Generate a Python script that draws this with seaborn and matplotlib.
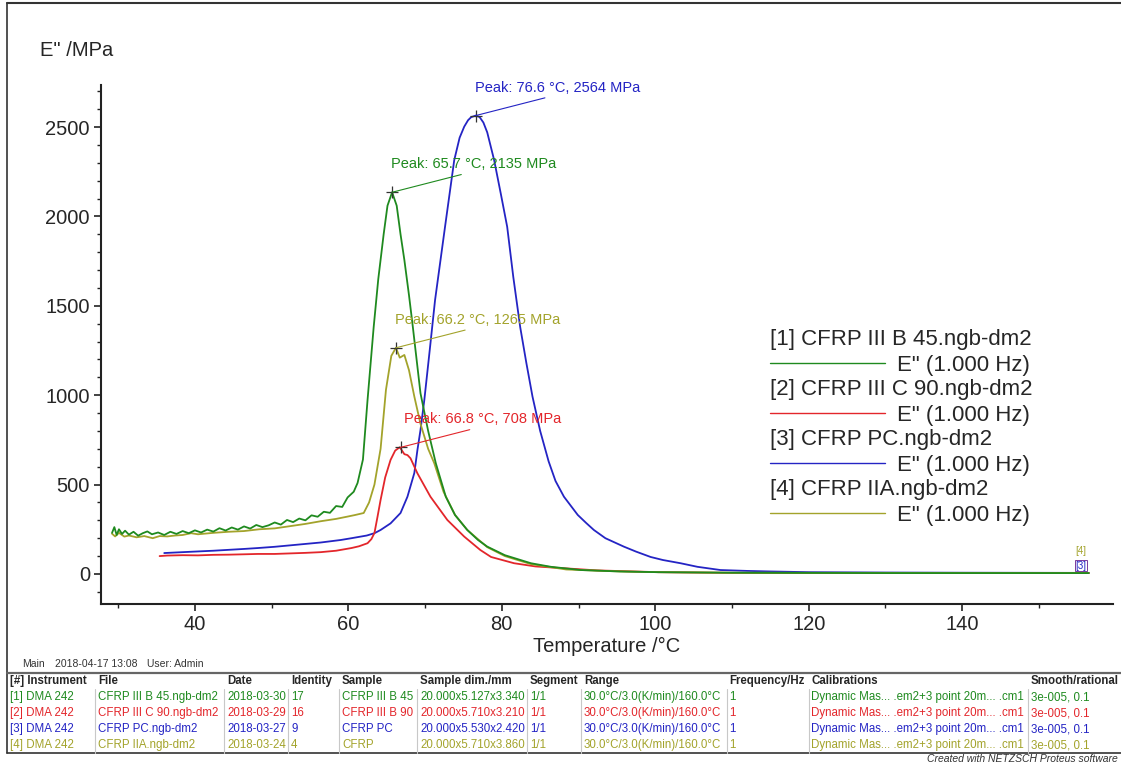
import pandas as pd
import matplotlib.pyplot as plt
from matplotlib.lines import Line2D
from matplotlib.ticker import MultipleLocator
import seaborn as sns

b45_temp = [
    29.2, 29.5, 29.8, 30.1, 30.5, 30.9, 31.4, 32.0, 32.6, 33.2,
    33.8, 34.4, 35.2, 36.0, 36.8, 37.6, 38.4, 39.2, 40.0, 40.8,
    41.6, 42.4, 43.2, 44.0, 44.8, 45.6, 46.4, 47.2, 48.0, 48.8,
    49.6, 50.4, 51.2, 52.0, 52.8, 53.6, 54.4, 55.2, 56.0, 56.8,
    57.6, 58.4, 59.2, 59.9, 60.7, 61.2, 61.9, 62.5, 63.3, 63.9,
    64.6, 65.1, 65.7, 66.3, 66.8, 67.3, 67.9, 68.4, 69.4, 70.4,
    71.4, 72.7, 73.9, 75.5, 76.9, 78.1, 80.4, 83.8, 86.4, 90.3,
    95.4, 100.4, 110.0, 120.0, 130.0, 140.0, 150.0, 156.5]
b45_loss = [
    230, 262, 218, 250, 224, 242, 220, 236, 214, 228,
    238, 222, 232, 218, 236, 224, 240, 228, 244, 232,
    248, 237, 256, 243, 260, 248, 266, 254, 274, 262,
    272, 288, 276, 302, 290, 310, 300, 328, 320, 348,
    342, 380, 375, 428, 460, 509, 640, 973, 1381, 1650,
    1900, 2060, 2135, 2060, 1900, 1756, 1560, 1383, 1011, 800,
    619, 432, 330, 246, 190, 153, 105, 60, 40, 22,
    14, 10, 7, 6, 5, 5, 5, 5]

c90_temp = [
    35.4, 36.4, 38.4, 40.4, 42.4, 44.4, 46.4, 48.2, 50.4, 52.4,
    54.4, 56.4, 58.4, 60.4, 61.4, 62.5, 63.0, 63.4, 63.8, 64.2,
    64.8, 65.5, 66.1, 66.7, 67.3, 67.7, 68.1, 69.0, 70.7, 72.9,
    75.1, 77.2, 78.6, 81.6, 84.4, 88.1, 92.4, 100.4, 110.0, 130.0,
    156.5]
c90_loss = [
    100, 103, 105, 104, 107, 108, 110, 112, 112, 115,
    118, 122, 130, 145, 155, 172, 195, 229, 320, 414,
    540, 638, 690, 709, 670, 665, 647, 563, 432, 302,
    209, 134, 95, 60, 42, 32, 20, 10, 6, 5,
    5]

pc_temp = [
    36.0, 38.4, 40.4, 42.4, 44.4, 46.4, 48.2, 50.4, 52.4, 54.4,
    56.4, 59.0, 60.4, 62.4, 63.4, 64.2, 65.5, 66.8, 67.7, 68.6,
    69.0, 69.4, 69.9, 70.6, 71.3, 72.6, 73.8, 74.5, 75.1, 75.6,
    76.0, 76.6, 77.1, 77.6, 78.1, 79.0, 79.9, 80.7, 81.5, 82.4,
    83.2, 84.0, 85.0, 86.1, 87.0, 88.1, 89.9, 91.0, 92.0, 93.5,
    95.9, 97.5, 99.4, 101.0, 103.3, 105.5, 108.5, 112.0, 115.0, 120.0,
    130.0, 140.0, 156.5]
pc_loss = [
    117, 122, 126, 130, 135, 140, 145, 152, 160, 168,
    176, 190, 200, 215, 228, 246, 283, 341, 432, 565,
    693, 805, 973, 1250, 1532, 1942, 2315, 2440, 2502, 2538,
    2555, 2564, 2556, 2525, 2470, 2315, 2120, 1942, 1660, 1380,
    1180, 992, 800, 630, 520, 432, 330, 285, 246, 200,
    153, 125, 95, 78, 60, 40, 22, 17, 14, 10,
    8, 7, 6]

iia_temp = [
    29.2, 29.6, 30.1, 30.8, 31.4, 32.4, 33.4, 34.5, 35.4, 36.4,
    37.4, 38.4, 39.5, 40.4, 42.4, 44.4, 46.4, 48.4, 50.4, 52.5,
    54.4, 56.4, 58.4, 59.9, 60.9, 62.0, 62.7, 63.4, 64.2, 64.9,
    65.6, 66.2, 66.7, 67.3, 67.9, 68.6, 69.4, 70.4, 71.2, 72.4,
    73.9, 75.5, 78.1, 80.4, 83.8, 88.4, 95.4, 100.4, 110.0, 130.0,
    156.5]
iia_loss = [
    225, 210, 230, 209, 215, 205, 212, 200, 212, 210,
    215, 218, 228, 222, 230, 236, 240, 250, 255, 268,
    280, 295, 308, 321, 330, 341, 400, 500, 700, 1030,
    1220, 1265, 1210, 1225, 1140, 992, 840, 700, 619, 460,
    330, 246, 150, 100, 55, 25, 14, 10, 7, 6,
    5]

files = ['CFRP III B 45.ngb-dm2', 'CFRP III C 90.ngb-dm2',
         'CFRP PC.ngb-dm2', 'CFRP IIA.ngb-dm2']
colors = ['#1f8a1f', '#e3262b', '#2424c4', '#a3a32b']
peak_temp = [65.7, 66.8, 76.6, 66.2]
peak_loss = [2135, 708, 2564, 1265]

# measurement table under the plot
tbl_date = ['2018-03-30', '2018-03-29', '2018-03-27', '2018-03-24']
tbl_identity = ['17', '16', '9', '4']
tbl_sample = ['CFRP III B 45', 'CFRP III B 90', 'CFRP PC', 'CFRP']
tbl_dim = ['20.000x5.127x3.340', '20.000x5.710x3.210',
           '20.000x5.530x2.420', '20.000x5.710x3.860']
tbl_headers = ['[#] Instrument', 'File', 'Date', 'Identity', 'Sample',
               'Sample dim./mm', 'Segment', 'Range', 'Frequency/Hz',
               'Calibrations', 'Smooth/rational']

curves = [(b45_temp, b45_loss), (c90_temp, c90_loss),
          (pc_temp, pc_loss), (iia_temp, iia_loss)]
frames = []
for f, (t, e) in zip(files, curves):
    frames.append(pd.DataFrame({'temp': t, 'loss': e, 'file': f}))
df = pd.concat(frames, ignore_index=True)

sns.set_style('ticks')
plt.rcParams['font.family'] = ['Liberation Sans', 'DejaVu Sans']

W, H = 1121, 766
fig = plt.figure(figsize=(W / 100, H / 100), dpi=100)
ax = fig.add_axes([101 / W, 1 - 604 / H, 1012 / W, 519 / H])

draw_order = [2, 1, 3, 0]
for i in draw_order:
    sns.lineplot(data=df[df['file'] == files[i]], x='temp', y='loss',
                 color=colors[i], sort=False, estimator=None, lw=1.3, ax=ax)

ax.set_xlim(27.76, 159.66)
ax.set_ylim(-168, 2735)
ax.xaxis.set_major_locator(MultipleLocator(20))
ax.xaxis.set_minor_locator(MultipleLocator(10))
ax.yaxis.set_major_locator(MultipleLocator(500))
ax.yaxis.set_minor_locator(MultipleLocator(100))
ax.tick_params(which='major', length=5, width=1.2, labelsize=14.5, pad=3,
               color='#222222')
ax.tick_params(which='minor', length=3, width=1.0, color='#222222')
for s in ['top', 'right']:
    ax.spines[s].set_visible(False)
for s in ['left', 'bottom']:
    ax.spines[s].set_linewidth(1.5)
    ax.spines[s].set_color('#222222')
ax.set_xlabel('Temperature /\u00b0C', fontsize=14.5, labelpad=2)
ax.set_ylabel('')
fig.text(40 / W, 1 - 50 / H, 'E" /MPa', fontsize=14.5, va='center')

# peak markers + labels
for t, v, c in zip(peak_temp, peak_loss, colors):
    ax.plot(t, v, marker='+', color='#333333', ms=9, mew=0.9)
    ax.annotate(f'Peak: {t} \u00b0C, {v} MPa', xy=(t, v), xytext=(82, 21),
                textcoords='offset pixels', ha='center', va='bottom',
                fontsize=10.5, color=c,
                arrowprops=dict(arrowstyle='-', color=c, lw=0.8,
                                shrinkA=0, shrinkB=0, relpos=(0.5, 0)))

ax.text(155.5, 129, '[4]', fontsize=7, color=colors[3], ha='center', va='center')
ax.text(155.5, 45, '[3]', fontsize=7, color=colors[2], ha='center', va='center',
        bbox=dict(boxstyle='square,pad=0.05', fc='none', ec='#7a3a9a', lw=0.7))

# curve legend, drawn like the Proteus one
for i, f in enumerate(files):
    y0 = 340 + i * 50
    fig.text(770 / W, 1 - y0 / H, f'[{i + 1}] {f}', fontsize=16, va='center')
    fig.text(897 / W, 1 - (y0 + 25) / H, 'E" (1.000 Hz)', fontsize=16, va='center')
    fig.add_artist(Line2D([770 / W, 885 / W], [1 - (y0 + 23) / H] * 2,
                          color=colors[i], lw=1.0))

# outer frame
fig.add_artist(Line2D([7 / W, 1.01], [1 - 3 / H] * 2, color='#333333', lw=1.5))
fig.add_artist(Line2D([7 / W] * 2, [1 - 3 / H, 1 - 753 / H], color='#333333', lw=1.2))
fig.add_artist(Line2D([7 / W, 1.01], [1 - 673 / H] * 2, color='#666666', lw=1.6))
fig.add_artist(Line2D([7 / W, 1.01], [1 - 753 / H] * 2, color='#333333', lw=1.2))

fig.text(22 / W, 1 - 664 / H, 'Main', fontsize=7.5, va='center', color='#333333')
fig.text(55 / W, 1 - 664 / H, '2018-04-17 13:08', fontsize=7.5, va='center', color='#333333')
fig.text(147 / W, 1 - 664 / H, 'User: Admin', fontsize=7.5, va='center', color='#333333')

col_x = [10, 98, 227, 291, 342, 420, 530, 584, 729, 811, 1031]
sep_x = [95, 224, 288, 339, 417, 527, 581, 727, 809, 1028]
for x, h in zip(col_x, tbl_headers):
    fig.text(x / W, 1 - 681 / H, h, fontsize=8.3, fontweight='bold', va='center')
for x in sep_x:
    fig.add_artist(Line2D([x / W] * 2, [1 - 689 / H, 1 - 753 / H],
                          color='#c8c8c8', lw=0.8))
for i in range(4):
    y = 1 - (697 + i * 16) / H
    row = [f'[{i + 1}] DMA 242', files[i], tbl_date[i], tbl_identity[i],
           tbl_sample[i], tbl_dim[i], '1/1',
           '30.0\u00b0C/3.0(K/min)/160.0\u00b0C', '1',
           'Dynamic Mas... .em2+3 point 20m... .cm1', '3e-005, 0.1']
    for x, s in zip(col_x, row):
        fig.text(x / W, y, s, fontsize=8.3, va='center', color=colors[i])

fig.text(1118 / W, 1 - 759 / H, 'Created with NETZSCH Proteus software',
         fontsize=7.5, style='italic', ha='right', va='center', color='#333333')

fig.savefig('out.png', dpi=100, facecolor='white')
